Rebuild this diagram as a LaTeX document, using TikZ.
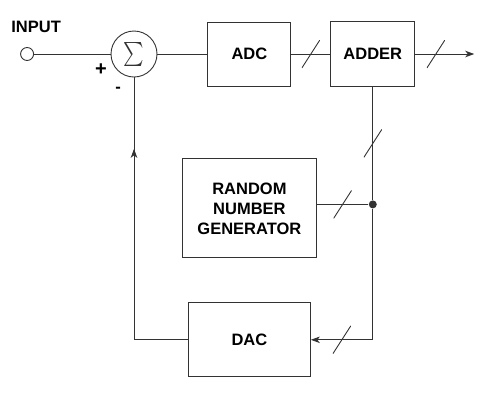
\documentclass[tikz,border=0pt]{standalone}
\usepackage{fontspec}
\setmainfont{Liberation Sans}
\usetikzlibrary{arrows.meta,positioning}

\begin{document}
\begin{tikzpicture}[x=1pt,y=1pt,>={Stealth[length=9pt,width=6.5pt,inset=2.5pt]},
  line width=0.9pt,color=black!80,
  block/.style={rectangle,draw,text=black,font=\bfseries\fontsize{16.5}{20}\selectfont,align=center,inner sep=0pt},
  txt/.style={text=black,font=\bfseries\fontsize{16.5}{20}\selectfont,inner sep=0pt},
  port/.style={circle,draw,minimum size=13pt,inner sep=0pt},
  sum/.style={circle,draw,minimum size=46pt,inner sep=0pt},
  dot/.style={circle,fill,minimum size=8pt,inner sep=0pt},
  buscut/.style={inner sep=0pt,minimum width=18pt,minimum height=28pt,
    path picture={\draw[-] (path picture bounding box.south west) -- (path picture bounding box.north east);}}]

  \useasboundingbox (0,0) rectangle (479,-400);

  \node[sum] (sum) at (134,-54) {\scalebox{1.95}[2.4]{$\sum$}};
  \node[port] (in) [left=76.5pt of sum] {};
  \node[txt] (inlbl) [above=14pt of in, xshift=9pt] {INPUT};
  \node[txt,font=\bfseries\fontsize{20}{20}\selectfont] (plus) at (101,-70) {+};
  \node[txt] (minus) at (118,-90) {-};

  \node[block,minimum width=83pt,minimum height=64pt] (adc) [right=50pt of sum] {ADC};
  \node[block,minimum width=84pt,minimum height=65pt] (adder) [right=39pt of adc] {ADDER};
  \node[block,minimum width=134pt,minimum height=99pt] (rng) [below=72pt of adc] {RANDOM\\NUMBER\\GENERATOR};
  \node[block,minimum width=122pt,minimum height=74pt] (dac) [below=44pt of rng] {DAC};

  \coordinate (out) at ([xshift=59pt]adder.east);
  \node[dot] (tap) at ([yshift=4pt]adder.south |- rng.east) {};
  \coordinate (feed) at (rng.east |- tap);
  \coordinate (turn) at (adder.south |- dac.east);
  \coordinate (back) at (sum.south |- dac.west);
  \coordinate (up) at ([yshift=191pt]back);

  % forward path
  \draw (in) -- (sum);
  \draw (sum) -- (adc);
  \path (adc) edge node[buscut] {} (adder);
  \draw[->] (adder) -- node[buscut,pos=.35] {} (out);

  % dither loop
  \draw (adder) -- node[buscut] {} (tap);
  \draw (feed) -- node[buscut] {} (tap);
  \draw[->] (tap) -- (turn) -- node[buscut] {} (dac);
  \draw (dac) -- (back) -- (sum);
  \draw[->] (back) -- (up);

\end{tikzpicture}
\end{document}
